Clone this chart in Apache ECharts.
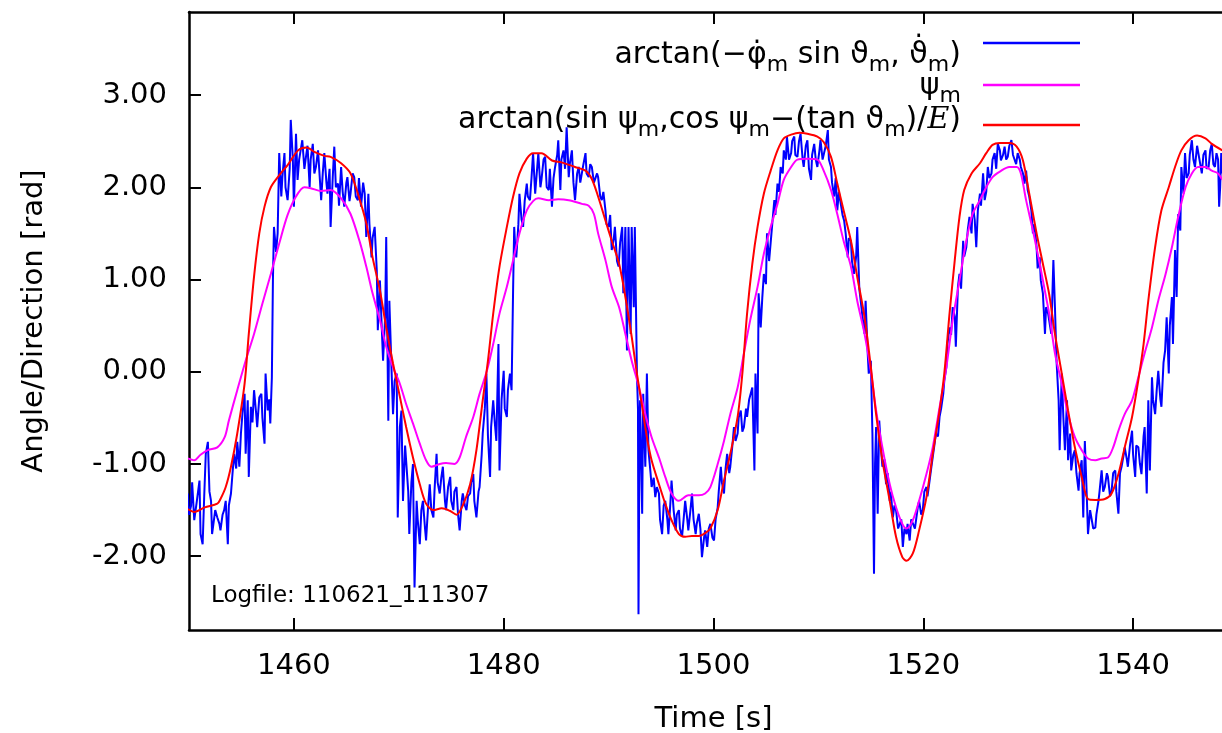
<!DOCTYPE html>
<html>
<head>
<meta charset="utf-8">
<script src="https://cdn.jsdelivr.net/npm/echarts@6/dist/echarts.min.js"></script>
<style>
html,body{margin:0;padding:0;background:#fff;}
#chart{width:1222px;height:733px;}
</style>
</head>
<body>
<div id="chart"></div>
<script>
// ---------------- data ----------------
const xTicks = [1460, 1480, 1500, 1520, 1540];
const yTicks = [-2, -1, 0, 1, 2, 3];
const seriesNames = ['arctanPhiTheta', 'psi', 'arctanPsiE'];
const logfileLabel = 'Logfile: 110621_111307';

// blue: arctan(-phidot_m sin theta_m, thetadot_m)  [time s, rad]
const blueSeries = [
[1449.9,-1.32],[1450.0,-1.55],[1450.2,-1.45],[1450.3,-1.20],[1450.5,-1.61],[1450.75,-1.40],[1451.0,-1.18],[1451.1,-1.76],[1451.3,-1.87],[1451.45,-1.35],[1451.6,-0.89],[1451.8,-0.76],[1451.95,-1.30],[1452.1,-1.40],[1452.2,-1.76],[1452.5,-1.50],[1452.7,-1.58],[1452.9,-1.65],[1453.0,-1.72],[1453.2,-1.55],[1453.35,-1.50],[1453.5,-1.40],[1453.7,-1.87],[1453.8,-1.45],[1454.0,-1.32],[1454.15,-1.10],[1454.3,-0.89],[1454.5,-1.05],[1454.6,-0.76],[1454.8,-1.03],[1454.95,-0.67],[1455.1,-0.45],[1455.3,-0.24],[1455.4,-0.89],[1455.6,-0.31],[1455.7,-1.14],[1455.9,-0.38],[1456.05,-0.55],[1456.2,-0.20],[1456.4,-0.45],[1456.5,-0.60],[1456.7,-0.28],[1456.9,-0.24],[1457.0,-0.50],[1457.2,-0.78],[1457.3,-0.02],[1457.5,-0.42],[1457.65,-0.30],[1457.75,-0.56],[1457.9,-0.06],[1458.0,0.99],[1458.1,1.57],[1458.3,1.30],[1458.45,1.50],[1458.6,2.37],[1458.8,1.90],[1458.9,2.11],[1459.1,2.37],[1459.2,2.00],[1459.4,1.86],[1459.6,2.20],[1459.7,2.73],[1459.9,2.30],[1460.0,1.79],[1460.2,2.58],[1460.35,2.08],[1460.5,2.30],[1460.8,2.51],[1461.0,2.20],[1461.15,2.33],[1461.3,2.45],[1461.5,2.00],[1461.6,2.30],[1461.8,2.47],[1461.95,2.15],[1462.1,2.22],[1462.3,2.40],[1462.6,1.86],[1462.75,2.15],[1462.9,2.37],[1463.1,2.05],[1463.2,1.93],[1463.4,2.20],[1463.5,1.57],[1463.7,2.10],[1463.85,2.44],[1464.0,2.00],[1464.2,2.04],[1464.3,1.80],[1464.5,2.22],[1464.65,1.95],[1464.8,1.79],[1465.0,2.05],[1465.1,2.11],[1465.3,1.85],[1465.4,1.93],[1465.6,2.15],[1465.75,2.11],[1465.9,1.90],[1466.1,1.86],[1466.2,2.10],[1466.4,1.79],
[1466.6,2.05],[1466.75,1.93],[1466.9,1.46],[1467.1,1.93],[1467.2,1.60],[1467.4,1.24],[1467.5,1.45],[1467.7,1.57],[1467.9,1.10],[1468.0,0.45],[1468.2,0.99],[1468.3,0.70],[1468.5,0.12],[1468.7,0.60],[1468.8,1.46],[1469.0,-0.53],[1469.1,0.77],[1469.3,0.05],[1469.45,-0.46],[1469.6,-0.10],[1469.8,-0.02],[1469.9,-1.58],[1470.1,-0.60],[1470.25,-0.42],[1470.4,-1.40],[1470.6,-0.80],[1470.7,-0.82],[1470.9,-1.30],[1471.0,-1.76],[1471.2,-1.20],[1471.35,-1.00],[1471.5,-2.34],[1471.7,-1.40],[1471.8,-1.60],[1472.0,-1.87],[1472.15,-1.50],[1472.3,-1.40],[1472.5,-1.70],[1472.6,-1.83],[1472.8,-1.45],[1472.95,-1.22],[1473.1,-1.50],[1473.3,-1.58],[1473.4,-1.30],[1473.6,-0.89],[1473.7,-1.20],[1473.9,-1.32],[1474.05,-1.15],[1474.2,-1.03],[1474.4,-1.40],[1474.5,-1.50],[1474.7,-1.25],[1474.9,-1.14],[1475.0,-1.40],[1475.2,-1.50],[1475.3,-1.30],[1475.5,-1.25],[1475.65,-1.55],[1475.8,-1.72],[1476.0,-1.40],[1476.1,-1.32],[1476.3,-1.45],[1476.45,-1.50],[1476.6,-1.35],[1476.8,-1.32],[1476.9,-1.20],[1477.1,-1.11],[1477.2,-1.40],[1477.4,-1.58],[1477.6,-1.30],[1477.7,-1.25],[1477.9,-0.90],[1478.0,-0.67],[1478.2,-0.40],[1478.35,-0.02],[1478.5,-0.70],[1478.7,-1.14],[1478.8,-0.60],[1479.0,-0.31],[1479.15,-0.55],[1479.3,-0.75],[1479.5,0.30],[1479.6,-1.07],[1479.8,-0.30],[1480.0,0.01],[1480.1,-0.40],[1480.3,-0.49],[1480.4,-0.20],[1480.6,-0.02],[1480.75,-0.20],[1480.9,0.92],[1481.0,1.57],[1481.1,1.35],[1481.2,1.24],[1481.4,1.60],[1481.5,1.93],[1481.7,1.65],[1481.85,1.57],[1482.0,1.85],[1482.2,2.04],[1482.3,1.90],[1482.5,1.86],[1482.65,2.10],[1482.8,2.37],
[1483.0,1.93],[1483.15,2.15],[1483.3,2.37],[1483.5,2.00],[1483.6,2.08],[1483.8,2.30],[1483.95,2.33],[1484.1,2.00],[1484.3,1.97],[1484.4,2.20],[1484.6,1.79],[1484.75,2.10],[1484.9,2.22],[1485.1,2.35],[1485.2,2.51],[1485.4,1.97],[1485.5,2.30],[1485.7,2.40],[1485.85,2.20],[1486.0,2.65],[1486.2,2.11],[1486.3,2.25],[1486.5,2.40],[1486.65,2.05],[1486.8,1.86],[1487.0,2.15],[1487.15,2.22],[1487.3,2.05],[1487.45,2.04],[1487.6,2.25],[1487.8,2.37],[1487.9,2.15],[1488.1,2.11],[1488.25,2.25],[1488.4,2.22],[1488.6,2.05],[1488.7,2.04],[1488.9,2.15],[1489.0,2.11],[1489.2,1.90],[1489.35,1.86],[1489.5,1.95],[1489.7,1.75],[1489.8,1.60],[1490.0,1.57],[1490.15,1.70],[1490.3,1.32],[1490.5,1.45],[1490.6,1.57],[1490.8,1.20],[1490.95,1.14],[1491.1,1.40],[1491.3,1.57],[1491.4,0.85],[1491.6,1.57],[1491.75,0.23],[1491.9,1.57],[1492.1,0.41],[1492.2,1.57],[1492.4,0.70],[1492.5,1.57],[1492.7,-0.02],[1492.8,-0.40],[1492.85,-2.63],[1492.95,-0.60],[1493.0,-0.31],[1493.2,-1.54],[1493.3,-0.24],[1493.5,-1.03],[1493.65,-0.02],[1493.8,-0.85],[1494.0,-1.10],[1494.1,-1.25],[1494.3,-1.15],[1494.45,-1.36],[1494.6,-1.25],[1494.8,-1.32],[1494.9,-1.60],[1495.1,-1.76],[1495.25,-1.45],[1495.4,-1.40],[1495.6,-1.60],[1495.7,-1.76],[1495.9,-1.40],[1496.0,-1.18],[1496.2,-1.50],[1496.4,-1.72],[1496.5,-1.55],[1496.7,-1.50],[1496.8,-1.70],[1497.0,-1.79],[1497.15,-1.60],[1497.3,-1.40],[1497.5,-1.60],[1497.6,-1.72],[1497.8,-1.50],[1497.95,-1.32],[1498.1,-1.60],[1498.3,-1.76],[1498.4,-1.65],[1498.6,-1.54],[1498.75,-1.70],[1498.9,-2.01],[1499.1,-1.80],[1499.2,-1.72],
[1499.4,-1.90],[1499.55,-1.70],[1499.7,-1.65],[1499.9,-1.80],[1500.05,-1.83],[1500.2,-1.60],[1500.4,-1.47],[1500.5,-1.30],[1500.7,-1.03],[1500.8,-1.20],[1501.0,-1.32],[1501.15,-1.05],[1501.3,-0.89],[1501.5,-1.10],[1501.6,-1.03],[1501.8,-0.80],[1501.95,-0.60],[1502.1,-0.75],[1502.3,-0.67],[1502.4,-0.50],[1502.6,-0.42],[1502.75,-0.65],[1502.9,-0.60],[1503.1,-0.40],[1503.2,-0.49],[1503.4,-0.30],[1503.55,-0.31],[1503.7,-0.17],[1503.9,-1.07],[1504.0,-0.02],[1504.2,-0.67],[1504.3,0.85],[1504.5,0.48],[1504.65,0.80],[1504.8,1.06],[1505.0,0.95],[1505.1,1.50],[1505.3,1.20],[1505.45,1.21],[1505.6,1.60],[1505.8,1.86],[1505.9,1.70],[1506.1,2.04],[1506.25,1.95],[1506.4,2.22],[1506.6,2.15],[1506.7,2.40],[1506.9,2.30],[1507.0,2.55],[1507.2,2.30],[1507.4,2.37],[1507.5,2.50],[1507.7,2.55],[1507.8,2.35],[1508.0,2.33],[1508.15,2.50],[1508.3,2.58],[1508.5,2.30],[1508.6,2.22],[1508.8,2.45],[1508.95,2.51],[1509.1,2.20],[1509.3,2.08],[1509.4,2.35],[1509.6,2.47],[1509.75,2.30],[1509.9,2.22],[1510.1,2.40],[1510.2,2.51],[1510.4,2.30],[1510.5,2.29],[1510.7,2.45],[1510.9,2.62],[1511.0,2.30],[1511.2,2.22],[1511.3,2.05],[1511.5,1.90],[1511.65,2.10],[1511.8,1.75],[1511.95,1.95],[1512.1,1.97],[1512.3,1.70],[1512.45,1.64],[1512.6,1.50],[1512.8,1.24],[1512.9,1.45],[1513.1,1.42],[1513.2,1.20],[1513.4,1.06],[1513.6,1.25],[1513.7,1.57],[1513.9,0.90],[1514.0,0.92],[1514.2,0.60],[1514.4,0.41],[1514.5,0.77],[1514.7,0.20],[1514.8,-0.02],[1515.0,0.12],[1515.15,-0.67],[1515.3,-2.19],[1515.4,-1.00],[1515.5,-0.60],
[1515.65,-1.54],[1515.8,-0.53],[1515.95,-0.80],[1516.1,-1.03],[1516.3,-0.95],[1516.45,-1.22],[1516.6,-1.10],[1516.8,-1.40],[1516.9,-1.30],[1517.1,-1.58],[1517.25,-1.45],[1517.4,-1.50],[1517.6,-1.70],[1517.7,-1.72],[1517.9,-1.60],[1518.05,-1.90],[1518.2,-1.70],[1518.4,-1.76],[1518.5,-1.65],[1518.7,-1.83],[1518.85,-1.60],[1519.0,-1.58],[1519.2,-1.70],[1519.3,-1.69],[1519.5,-1.45],[1519.6,-1.40],[1519.8,-1.55],[1519.95,-1.50],[1520.1,-1.30],[1520.3,-1.25],[1520.4,-1.35],[1520.6,-1.18],[1520.75,-1.05],[1520.9,-1.03],[1521.05,-0.80],[1521.2,-0.67],[1521.4,-0.70],[1521.55,-0.49],[1521.7,-0.40],[1521.9,-0.24],[1522.0,-0.10],[1522.2,0.05],[1522.3,0.30],[1522.5,0.48],[1522.65,0.40],[1522.8,0.70],[1523.0,0.60],[1523.1,0.27],[1523.3,0.92],[1523.45,1.06],[1523.6,0.90],[1523.8,1.42],[1523.9,1.25],[1524.1,1.35],[1524.25,1.55],[1524.4,1.68],[1524.6,1.50],[1524.7,1.82],[1524.9,1.65],[1525.05,1.35],[1525.2,1.75],[1525.4,1.93],[1525.5,1.80],[1525.7,2.15],[1525.85,1.86],[1526.0,1.95],[1526.15,2.22],[1526.3,2.10],[1526.5,2.15],[1526.6,2.30],[1526.8,2.37],[1526.95,2.20],[1527.1,2.47],[1527.3,2.40],[1527.4,2.29],[1527.6,2.35],[1527.75,2.44],[1527.9,2.30],[1528.05,2.33],[1528.2,2.45],[1528.4,2.51],[1528.55,2.35],[1528.7,2.37],[1528.85,2.25],[1529.0,2.37],[1529.2,2.30],[1529.3,2.22],[1529.5,2.15],[1529.65,2.04],[1529.8,2.18],[1529.95,1.97],[1530.1,1.90],[1530.3,1.75],[1530.45,1.50],[1530.6,1.60],[1530.8,1.35],[1530.9,1.12],[1531.1,1.24],[1531.2,0.99],[1531.4,0.85],[1531.6,0.41],[1531.7,0.70],[1531.9,0.63],
[1532.2,0.41],[1532.4,1.21],[1532.55,0.70],[1532.7,0.12],[1532.9,-0.31],[1533.0,-0.85],[1533.2,-0.02],[1533.35,-0.49],[1533.5,-0.85],[1533.7,-0.31],[1533.8,-0.96],[1534.0,-0.67],[1534.1,-1.07],[1534.3,-0.90],[1534.45,-0.85],[1534.6,-1.10],[1534.8,-1.29],[1534.9,-1.10],[1535.1,-0.96],[1535.25,-1.58],[1535.4,-0.75],[1535.6,-1.40],[1535.7,-1.76],[1535.9,-1.50],[1536.05,-1.50],[1536.2,-1.70],[1536.4,-1.69],[1536.5,-1.55],[1536.7,-1.40],[1536.8,-1.30],[1537.0,-1.07],[1537.15,-1.30],[1537.3,-1.25],[1537.5,-1.10],[1537.6,-1.14],[1537.8,-1.35],[1537.95,-1.29],[1538.1,-1.10],[1538.3,-1.07],[1538.4,-1.30],[1538.6,-1.54],[1538.75,-1.10],[1538.9,-1.03],[1539.1,-0.90],[1539.2,-0.82],[1539.4,-0.95],[1539.5,-1.03],[1539.7,-0.80],[1539.9,-0.64],[1540.0,-0.90],[1540.2,-1.14],[1540.3,-0.80],[1540.5,-0.82],[1540.65,-1.00],[1540.8,-1.11],[1541.0,-0.70],[1541.1,-0.60],[1541.3,-1.32],[1541.45,-0.31],[1541.6,-1.07],[1541.8,-0.06],[1541.9,-0.30],[1542.1,-0.46],[1542.25,-0.20],[1542.4,0.01],[1542.6,-0.30],[1542.7,-0.38],[1542.9,0.10],[1543.05,0.23],[1543.2,0.59],[1543.4,-0.02],[1543.5,0.50],[1543.7,0.81],[1543.8,0.30],[1544.0,1.32],[1544.15,0.81],[1544.3,1.71],[1544.5,1.53],[1544.6,2.22],[1544.8,1.93],[1544.95,2.37],[1545.1,2.10],[1545.3,2.15],[1545.4,2.35],[1545.6,2.51],[1545.75,2.30],[1545.9,2.22],[1546.1,2.45],[1546.2,2.47],[1546.4,2.25],[1546.55,2.15],[1546.7,2.35],[1546.9,2.40],[1547.0,2.20],[1547.2,2.22],[1547.35,2.40],[1547.5,2.47],[1547.65,2.25],[1547.8,2.22],[1547.95,2.37],[1548.1,2.30],[1548.2,1.79],[1548.3,2.00],[1548.4,2.37],[1548.5,2.15]
];

// magenta: psi_m
const magentaSeries = [
[1449.9,-0.94],[1450.5,-0.96],[1451.1,-0.90],[1451.8,-0.85],[1452.7,-0.82],[1453.4,-0.71],[1453.8,-0.53],[1454.6,-0.20],[1455.4,0.12],[1456.2,0.41],[1457.0,0.74],[1457.8,1.06],[1458.6,1.39],[1459.4,1.70],[1460.2,1.90],[1461.0,2.00],[1461.6,1.99],[1462.6,1.96],[1463.5,1.97],[1464.5,1.88],[1465.4,1.71],[1466.3,1.40],[1466.9,1.14],[1467.5,0.85],[1468.2,0.56],[1468.8,0.27],[1469.45,0.05],[1470.1,-0.13],[1470.7,-0.35],[1471.35,-0.56],[1472.0,-0.78],[1472.6,-0.96],[1473.1,-1.03],[1473.9,-1.00],[1474.5,-0.99],[1475.3,-1.00],[1475.8,-0.93],[1476.4,-0.71],[1477.1,-0.49],[1477.7,-0.24],[1478.4,0.01],[1479.0,0.30],[1479.6,0.63],[1480.3,0.92],[1480.9,1.21],[1481.5,1.50],[1482.2,1.75],[1482.8,1.85],[1483.3,1.88],[1484.3,1.86],[1485.2,1.87],[1486.2,1.86],[1487.45,1.82],[1488.1,1.80],[1488.6,1.71],[1489.0,1.50],[1489.7,1.21],[1490.3,0.92],[1491.0,0.70],[1491.6,0.41],[1492.2,0.12],[1492.9,-0.17],[1493.5,-0.46],[1494.1,-0.71],[1494.8,-0.93],[1495.4,-1.14],[1496.0,-1.32],[1496.7,-1.40],[1497.6,-1.34],[1498.6,-1.34],[1499.2,-1.32],[1499.7,-1.25],[1500.4,-1.00],[1501.0,-0.75],[1501.6,-0.46],[1502.3,-0.17],[1502.9,0.20],[1503.5,0.56],[1504.2,0.92],[1504.8,1.28],[1505.45,1.57],[1506.1,1.82],[1506.7,2.08],[1507.4,2.22],[1508.0,2.30],[1508.95,2.31],[1509.9,2.30],[1510.5,2.18],[1511.2,1.97],[1511.8,1.71],[1512.4,1.42],[1513.1,1.14],[1513.7,0.77],[1514.4,0.41],[1515.0,0.01],[1515.5,-0.42],[1516.1,-0.82],[1516.8,-1.22],[1517.4,-1.47],[1518.0,-1.65],[1518.4,-1.70],[1519.0,-1.61],[1519.6,-1.40],[1520.3,-1.11],[1520.9,-0.82],[1521.5,-0.42],[1522.2,0.05],[1522.8,0.56],[1523.45,0.99],[1524.1,1.42],[1524.7,1.71],[1525.4,1.86],[1526.0,2.00],[1526.6,2.11],[1527.3,2.17],[1528.2,2.22],[1528.9,2.22],[1529.3,2.15],[1529.8,1.86],[1530.45,1.53],[1531.1,1.17],[1531.7,0.81],[1532.0,0.63],[1532.55,0.20],[1533.2,-0.13],[1533.8,-0.46],[1534.45,-0.71],[1535.1,-0.85],[1535.7,-0.94],[1536.4,-0.96],[1537.0,-0.94],[1537.6,-0.93],[1538.1,-0.82],[1538.6,-0.64],[1539.2,-0.46],[1539.9,-0.31],[1540.5,-0.06],[1541.1,0.20],[1541.8,0.48],[1542.4,0.77],[1543.1,1.06],[1543.7,1.35],[1544.3,1.68],[1545.0,2.00],[1545.6,2.15],[1546.2,2.22],[1546.9,2.22],[1547.5,2.18],[1548.1,2.15],[1548.5,2.08]
];

// red: arctan(sin psi_m, cos psi_m - (tan theta_m)/E)
const redSeries = [
[1449.9,-1.49],[1450.5,-1.52],[1451.5,-1.47],[1452.7,-1.43],[1453.0,-1.38],[1453.5,-1.25],[1454.0,-1.03],[1454.6,-0.67],[1455.3,-0.13],[1455.7,0.41],[1456.2,1.03],[1456.7,1.50],[1457.2,1.79],[1457.8,2.00],[1458.6,2.13],[1459.4,2.24],[1460.4,2.40],[1461.2,2.43],[1462.0,2.38],[1462.9,2.34],[1463.5,2.33],[1464.5,2.26],[1465.4,2.15],[1466.1,1.93],[1466.9,1.61],[1467.5,1.24],[1468.2,0.88],[1468.8,0.48],[1469.45,0.09],[1470.1,-0.27],[1470.7,-0.60],[1471.35,-0.93],[1472.0,-1.22],[1472.6,-1.43],[1473.3,-1.50],[1474.1,-1.48],[1474.9,-1.51],[1475.5,-1.55],[1476.1,-1.45],[1476.8,-1.22],[1477.4,-0.85],[1478.0,-0.31],[1478.5,0.12],[1479.0,0.63],[1479.6,1.14],[1480.3,1.57],[1480.9,1.90],[1481.5,2.15],[1482.2,2.31],[1482.8,2.37],[1483.6,2.37],[1484.6,2.29],[1485.5,2.27],[1486.8,2.22],[1487.8,2.18],[1488.4,2.09],[1489.0,1.90],[1489.7,1.64],[1490.3,1.42],[1491.0,1.17],[1491.6,0.81],[1492.2,0.38],[1492.7,-0.02],[1493.2,-0.38],[1493.65,-0.71],[1494.1,-0.96],[1494.8,-1.22],[1495.4,-1.43],[1496.0,-1.61],[1496.7,-1.76],[1497.3,-1.79],[1497.95,-1.78],[1498.6,-1.78],[1499.2,-1.75],[1499.7,-1.70],[1500.4,-1.50],[1501.0,-1.18],[1501.6,-0.89],[1502.3,-0.49],[1502.75,-0.02],[1503.2,0.63],[1503.7,1.17],[1504.2,1.57],[1504.8,1.93],[1505.45,2.18],[1506.1,2.40],[1506.7,2.53],[1507.4,2.57],[1508.2,2.59],[1508.95,2.58],[1509.9,2.55],[1510.5,2.49],[1511.2,2.33],[1511.8,2.04],[1512.4,1.75],[1513.1,1.42],[1513.7,1.03],[1514.4,0.59],[1515.0,0.05],[1515.5,-0.46],[1516.1,-0.96],[1516.8,-1.40],[1517.4,-1.79],[1518.0,-2.01],[1518.4,-2.05],[1519.0,-1.97],[1519.6,-1.72],[1520.3,-1.36],[1520.9,-0.89],[1521.5,-0.46],[1522.0,-0.02],[1522.5,0.63],[1523.0,1.21],[1523.45,1.68],[1523.9,1.97],[1524.6,2.15],[1525.4,2.26],[1526.0,2.37],[1526.6,2.46],[1527.3,2.48],[1528.2,2.48],[1528.9,2.44],[1529.5,2.29],[1530.1,1.93],[1530.8,1.50],[1531.4,1.17],[1532.0,0.84],[1532.55,0.41],[1533.2,-0.02],[1533.8,-0.42],[1534.45,-0.82],[1535.1,-1.14],[1535.7,-1.38],[1536.4,-1.39],[1537.3,-1.38],[1537.95,-1.32],[1538.6,-1.11],[1539.2,-0.82],[1539.9,-0.49],[1540.5,-0.09],[1541.0,0.30],[1541.45,0.77],[1542.1,1.35],[1542.7,1.75],[1543.4,2.00],[1544.0,2.22],[1544.6,2.40],[1545.3,2.51],[1546.1,2.56],[1546.9,2.53],[1547.5,2.47],[1548.5,2.40]
];

// ---------------- chart ----------------
const FONT = 'DejaVu Sans';
const chart = echarts.init(document.getElementById('chart'), null, {renderer: 'canvas'});

function richFor(shift) {
  const pad = (s) => s >= 0 ? [2 * s, 0, 0, 0] : [0, 0, -2 * s, 0];
  return {
    t: {fontFamily: FONT, fontSize: 30, color: '#000', lineHeight: 34, verticalAlign: 'middle', padding: pad(shift)},
    s: {fontFamily: FONT, fontSize: 22, color: '#000', lineHeight: 24, verticalAlign: 'middle', padding: pad(shift + 10)},
    e: {fontFamily: 'DejaVu Serif', fontStyle: 'italic', fontSize: 30, color: '#000', lineHeight: 34, verticalAlign: 'middle', padding: pad(shift)},
    g: {width: 17}
  };
}
function tokenH(shift) {
  return Math.max(34 + 2 * Math.abs(shift), 24 + 2 * Math.abs(shift + 10));
}
const legendLabels = {
  arctanPhiTheta: '{t|arctan(\u2212\u03C6\u0307}{s|m}{t| sin \u03D1}{s|m}{t|, \u03D1\u0307}{s|m}{t|)}{g|}',
  psi: '{t|\u03C8}{s|m}{g|}',
  arctanPsiE: '{t|arctan(sin \u03C8}{s|m}{t|,cos \u03C8}{s|m}{t|\u2212(tan \u03D1}{s|m}{t|)/}{e|E}{t|)}{g|}'
};
const legendColors = ['#0000ff', '#ff00ff', '#ff0000'];
const legendIconY = [44, 86, 127];
const legendShift = [12, 1, -5];
const ICON_H = 2.5;
const legends = seriesNames.map((n, i) => ({
  data: [n],
  orient: 'vertical',
  align: 'right',
  right: 142,
  top: legendIconY[i] - Math.max(tokenH(legendShift[i]), ICON_H) / 2,
  padding: 0,
  icon: 'rect',
  itemWidth: 97,
  itemHeight: ICON_H,
  itemStyle: {color: legendColors[i], borderWidth: 0},
  selectedMode: false,
  formatter: () => legendLabels[n],
  textStyle: {rich: richFor(legendShift[i])}
}));

const axisLineStyle = {color: '#000', width: 2.5};
const tickStyle = {color: '#000', width: 2};

const option = {
  animation: false,
  backgroundColor: '#fff',
  title: {
    text: logfileLabel,
    left: 211,
    top: 585,
    padding: 0,
    textStyle: {fontFamily: FONT, fontSize: 23, fontWeight: 'normal', color: '#000'}
  },
  legend: legends,
  grid: {left: 189, right: -16, top: 12, bottom: 103, containLabel: false, outerBoundsMode: 'none'},
  xAxis: [
    {
      type: 'value', min: 1450, max: 1550, position: 'bottom',
      name: 'Time [s]', nameLocation: 'middle', nameGap: 75,
      nameTextStyle: {fontFamily: FONT, fontSize: 29, color: '#000'},
      axisLine: {show: true, onZero: false, lineStyle: axisLineStyle},
      axisTick: {show: true, inside: true, length: 12, lineStyle: tickStyle, customValues: xTicks},
      axisLabel: {show: true, margin: 22, fontFamily: FONT, fontSize: 29, color: '#000', customValues: xTicks,
                  formatter: v => String(v)},
      splitLine: {show: false}
    },
    {
      type: 'value', min: 1450, max: 1550, position: 'top',
      axisLine: {show: true, onZero: false, lineStyle: axisLineStyle},
      axisTick: {show: true, inside: true, length: 12, lineStyle: tickStyle, customValues: xTicks},
      axisLabel: {show: false},
      splitLine: {show: false}
    }
  ],
  yAxis: [
    {
      type: 'value', min: -2.8, max: 3.9, position: 'left',
      name: 'Angle/Direction [rad]', nameLocation: 'middle', nameGap: 140, nameRotate: 90,
      nameTextStyle: {fontFamily: FONT, fontSize: 29, color: '#000'},
      axisLine: {show: true, onZero: false, lineStyle: axisLineStyle},
      axisTick: {show: true, inside: true, length: 12, lineStyle: tickStyle, customValues: yTicks},
      axisLabel: {show: true, margin: 22, fontFamily: FONT, fontSize: 29, color: '#000', customValues: yTicks,
                  formatter: v => Number(v).toFixed(2)},
      splitLine: {show: false}
    }
  ],
  series: [
    {name: seriesNames[0], type: 'line', data: blueSeries, symbol: 'none', clip: true, z: 2,
     lineStyle: {color: '#0000ff', width: 2}, itemStyle: {color: '#0000ff'}},
    {name: seriesNames[1], type: 'line', data: magentaSeries, symbol: 'none', clip: true, smooth: 0.3, z: 3,
     lineStyle: {color: '#ff00ff', width: 2}, itemStyle: {color: '#ff00ff'}},
    {name: seriesNames[2], type: 'line', data: redSeries, symbol: 'none', clip: true, smooth: 0.3, z: 4,
     lineStyle: {color: '#ff0000', width: 2}, itemStyle: {color: '#ff0000'}}
  ]
};
chart.setOption(option);
</script>
</body>
</html>
